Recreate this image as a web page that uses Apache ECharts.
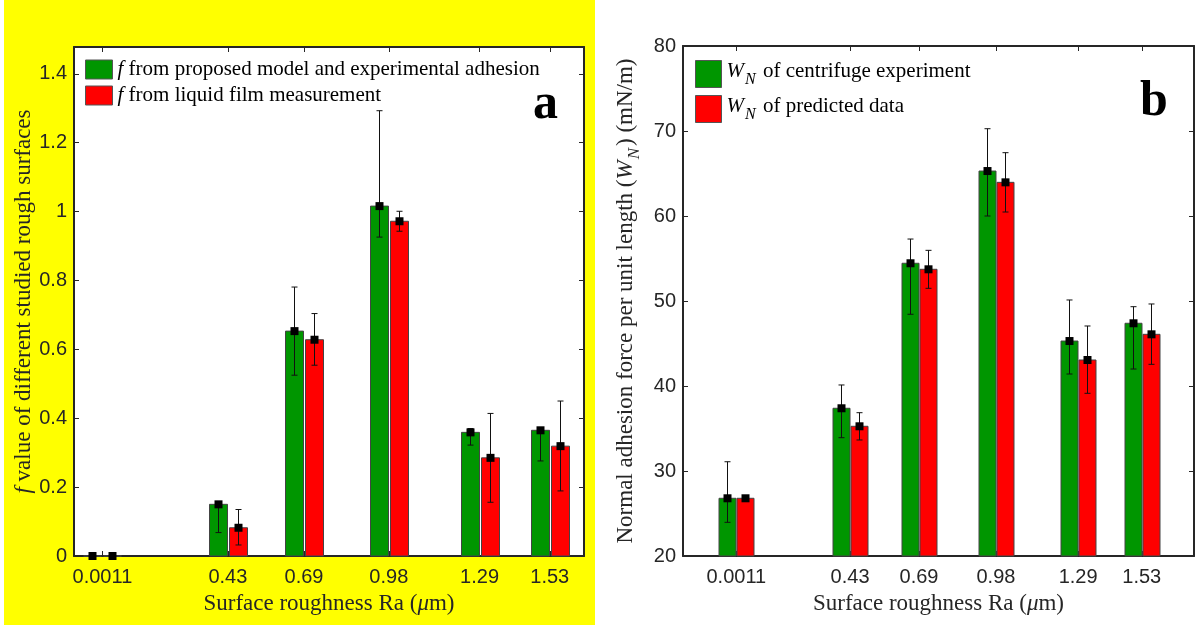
<!DOCTYPE html>
<html><head><meta charset="utf-8">
<script src="https://cdn.jsdelivr.net/npm/echarts@6/dist/echarts.min.js"></script>
<style>html,body{margin:0;padding:0;background:#fff}#c{width:1196px;height:627px}</style>
</head><body><div id="c"></div>
<script>
// ---------- data ----------
const roughness = [0.0011, 0.43, 0.69, 0.98, 1.29, 1.53];
const roughnessLabels = ['0.0011', '0.43', '0.69', '0.98', '1.29', '1.53'];
const fTicks = [0, 0.2, 0.4, 0.6, 0.8, 1, 1.2, 1.4];
const wTicks = [20, 30, 40, 50, 60, 70, 80];

const fModel     = [0, 0.150, 0.653, 1.016, 0.359, 0.365];
const fModelLow  = [0, 0.068, 0.525, 0.926, 0.322, 0.276];
const fModelHigh = [0, 0.158, 0.781, 1.293, 0.370, 0.372];
const fFilm      = [0, 0.082, 0.628, 0.972, 0.285, 0.319];
const fFilmLow   = [0, 0.032, 0.554, 0.943, 0.156, 0.189];
const fFilmHigh  = [0, 0.135, 0.704, 1.001, 0.414, 0.450];

const wnExp      = [26.79, 37.38, 54.44, 65.29, 45.29, 47.38];
const wnExpLow   = [23.96, 33.92, 48.44, 60.00, 41.41, 42.00];
const wnExpHigh  = [31.09, 40.12, 57.29, 70.27, 50.12, 49.33];
const wnPred     = [26.79, 35.26, 53.73, 63.96, 43.06, 46.08];
const wnPredLow  = [26.60, 33.65, 51.49, 60.47, 39.14, 42.55];
const wnPredHigh = [27.00, 36.86, 55.96, 67.45, 47.06, 49.65];

const L1 = 'f from proposed model and experimental adhesion';
const L2 = 'f from liquid film measurement';
const R1 = 'WN of centrifuge experiment';
const R2 = 'WN of predicted data';

// ---------- styling ----------
const GREEN = '#009600', RED = '#ff0000', AX = '#262626';
const SERIF = 'Liberation Serif', SANS = 'Liberation Sans';

function rows(v, lo, hi) { return roughness.map((x, i) => [x, v[i], lo[i], hi[i]]); }

function makeRender(offset, w, color) {
  return function (params, api) {
    const x = api.value(0), v = api.value(1), lo = api.value(2), hi = api.value(3);
    const p = api.coord([x, v]);
    const pl = api.coord([x, lo]);
    const ph = api.coord([x, hi]);
    const baseY = params.coordSys.y + params.coordSys.height;
    const cx = Math.round(p[0] + offset) + 0.5;
    const cap = 3;
    const ch = [
      { type: 'rect', shape: { x: cx - w / 2, y: p[1], width: w, height: baseY - p[1] },
        style: { fill: color, stroke: '#444', lineWidth: 1 } },
      { type: 'line', shape: { x1: cx, y1: pl[1], x2: cx, y2: ph[1] }, style: { stroke: '#111', lineWidth: 1 } },
      { type: 'line', shape: { x1: cx - cap, y1: pl[1], x2: cx + cap, y2: pl[1] }, style: { stroke: '#111', lineWidth: 1 } },
      { type: 'line', shape: { x1: cx - cap, y1: ph[1], x2: cx + cap, y2: ph[1] }, style: { stroke: '#111', lineWidth: 1 } },
      { type: 'rect', shape: { x: cx - 4, y: p[1] - 4, width: 8, height: 8 }, style: { fill: '#000' } }
    ];
    return { type: 'group', children: ch };
  };
}

function xAxes(grid, min, max, name) {
  const line = { show: true, onZero: false, lineStyle: { color: AX, width: 2 } };
  return [{
    gridIndex: grid, type: 'value', position: 'bottom', min: min, max: max,
    axisLine: line,
    axisTick: { show: true, inside: true, length: 5, customValues: roughness, lineStyle: { color: AX, width: 1 } },
    axisLabel: { show: true, customValues: roughness, color: AX, fontFamily: SANS, fontSize: 20, margin: 11,
      formatter: v => { let k = 0; roughness.forEach((r, i) => { if (Math.abs(r - v) < Math.abs(roughness[k] - v)) k = i; }); return roughnessLabels[k]; } },
    splitLine: { show: false },
    name: name, nameLocation: 'middle', nameGap: 36,
    nameTextStyle: { fontFamily: SERIF, fontSize: 23, color: AX,
      rich: { m: { fontFamily: SERIF, fontSize: 23, fontStyle: 'italic', color: AX } } }
  }, {
    gridIndex: grid, type: 'value', position: 'top', min: min, max: max,
    axisLine: line,
    axisTick: { show: true, inside: true, length: 5, customValues: roughness, lineStyle: { color: AX, width: 1 } },
    axisLabel: { show: false }, splitLine: { show: false }
  }];
}

function yAxes(grid, min, max, ticks, name, gap, rich) {
  const line = { show: true, onZero: false, lineStyle: { color: AX, width: 2 } };
  return [{
    gridIndex: grid, type: 'value', position: 'left', min: min, max: max,
    axisLine: line,
    axisTick: { show: true, inside: true, length: 5, customValues: ticks, lineStyle: { color: AX, width: 1 } },
    axisLabel: { show: true, customValues: ticks, color: AX, fontFamily: SANS, fontSize: 20, margin: 7 },
    splitLine: { show: false },
    name: name, nameLocation: 'middle', nameGap: gap,
    nameTextStyle: { fontFamily: SERIF, fontSize: 23, color: AX, rich: rich }
  }, {
    gridIndex: grid, type: 'value', position: 'right', min: min, max: max,
    axisLine: line,
    axisTick: { show: true, inside: true, length: 5, customValues: ticks, lineStyle: { color: AX, width: 1 } },
    axisLabel: { show: false }, splitLine: { show: false }
  }];
}

const richF = { i: { fontFamily: SERIF, fontSize: 23, fontStyle: 'italic', color: AX } };
const richW = {
  t: { fontFamily: SERIF, fontSize: 23, color: AX, verticalAlign: 'top' },
  w: { fontFamily: SERIF, fontSize: 23, fontStyle: 'italic', color: AX, verticalAlign: 'top' },
  n: { fontFamily: SERIF, fontSize: 17, fontStyle: 'italic', color: AX, verticalAlign: 'bottom', padding: [12, 2, 0, 1] }
};

const chart = echarts.init(document.getElementById('c'), null, { renderer: 'canvas' });
chart.setOption({
  backgroundColor: '#ffffff',
  animation: false,
  graphic: [
    { type: 'rect', z: -100, shape: { x: 4, y: 0, width: 591, height: 625 }, style: { fill: '#ffff00' } },
    { type: 'text', z: 100, x: 533, y: 105, style: { text: 'a', font: 'bold 50px "Liberation Serif"', fill: '#000', verticalAlign: 'middle' } },
    { type: 'text', z: 100, x: 1140, y: 102, style: { text: 'b', font: 'bold 50px "Liberation Serif"', fill: '#000', verticalAlign: 'middle' } }
  ],
  grid: [
    { left: 74, top: 47, width: 510, height: 509, show: true, backgroundColor: '#ffffff', borderWidth: 0 },
    { left: 683, top: 46, width: 511, height: 510, show: true, backgroundColor: '#ffffff', borderWidth: 0 }
  ],
  legend: [
    { data: [L1, L2], orient: 'vertical', left: 85, top: 59, padding: 0, icon: 'rect', itemWidth: 27, itemHeight: 19, itemGap: 5,
      selectedMode: false, itemStyle: { borderColor: '#555', borderWidth: 1 },
      textStyle: { fontFamily: SERIF, fontSize: 21, color: '#000', rich: { i: { fontFamily: SERIF, fontSize: 21, fontStyle: 'italic', color: '#000' } } },
      formatter: n => '{i|f} ' + n.slice(2) },
    { data: [R1, R2], orient: 'vertical', left: 695, top: 60, padding: 0, icon: 'rect', itemWidth: 26, itemHeight: 27, itemGap: 7,
      selectedMode: false, itemStyle: { borderColor: '#555', borderWidth: 1 },
      textStyle: { fontFamily: SERIF, fontSize: 21, color: '#000',
        rich: { t: { fontFamily: SERIF, fontSize: 21, color: '#000', verticalAlign: 'top' },
                w: { fontFamily: SERIF, fontSize: 21, fontStyle: 'italic', color: '#000', verticalAlign: 'top' },
                n: { fontFamily: SERIF, fontSize: 16, fontStyle: 'italic', color: '#000', verticalAlign: 'bottom', padding: [11, 2, 0, 1] } } },
      formatter: n => '{w|W}{n|N}{t| ' + n.slice(3) + '}' }
  ],
  xAxis: [].concat(
    xAxes(0, -0.096, 1.647, 'Surface roughness Ra ({m|μ}m)'),
    xAxes(1, -0.2, 1.727, 'Surface roughness Ra ({m|μ}m)')
  ),
  yAxis: [].concat(
    yAxes(0, 0, 1.478, fTicks, '{i|f} value of different studied rough surfaces', 39, richF),
    yAxes(1, 20, 80, wTicks, '{t|Normal adhesion force per unit length (}{w|W}{n|N}{t|) (mN/m)}', 40, richW)
  ),
  series: [
    { type: 'custom', name: L1, xAxisIndex: 0, yAxisIndex: 0, itemStyle: { color: GREEN },
      encode: { x: 0, y: 1 }, data: rows(fModel, fModelLow, fModelHigh), renderItem: makeRender(-10, 18, GREEN) },
    { type: 'custom', name: L2, xAxisIndex: 0, yAxisIndex: 0, itemStyle: { color: RED },
      encode: { x: 0, y: 1 }, data: rows(fFilm, fFilmLow, fFilmHigh), renderItem: makeRender(10, 18, RED) },
    { type: 'custom', name: R1, xAxisIndex: 2, yAxisIndex: 2, itemStyle: { color: GREEN },
      encode: { x: 0, y: 1 }, data: rows(wnExp, wnExpLow, wnExpHigh), renderItem: makeRender(-9, 17, GREEN) },
    { type: 'custom', name: R2, xAxisIndex: 2, yAxisIndex: 2, itemStyle: { color: RED },
      encode: { x: 0, y: 1 }, data: rows(wnPred, wnPredLow, wnPredHigh), renderItem: makeRender(9, 17, RED) }
  ]
});
</script>
</body></html>
